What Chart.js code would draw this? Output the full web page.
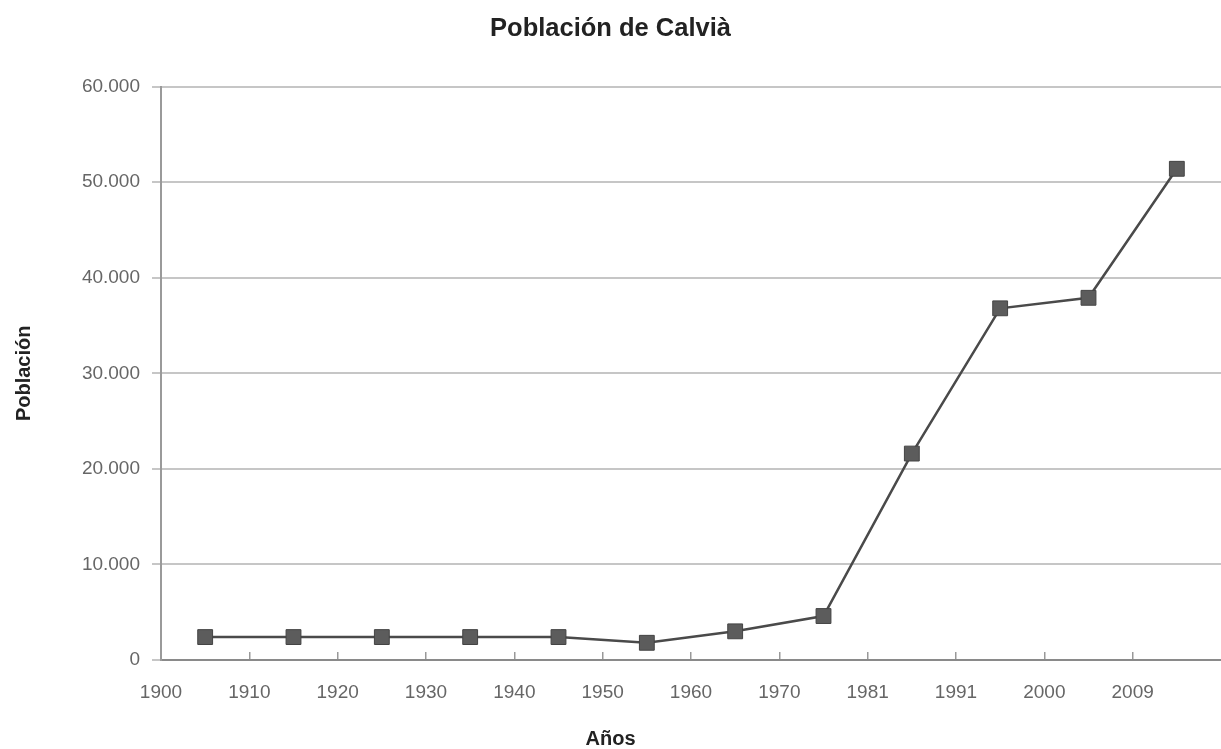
<!DOCTYPE html>
<html>
<head>
<meta charset="utf-8">
<script src="https://cdn.jsdelivr.net/npm/chart.js@4"></script>
<style>
  body { margin: 0; background: #fff; }
  #wrap { width: 1221px; height: 749px; }
</style>
</head>
<body>
<div id="wrap"><canvas id="myChart"></canvas></div>
<script>
"use strict"

// tick labels on the x axis (each one sits on the left edge of its period)
let yearLabels = ["1900", "1910", "1920", "1930", "1940", "1950", "1960", "1970", "1981", "1991", "2000", "2009"];

// population, one value per period
let population = [2400, 2400, 2400, 2400, 2400, 1800, 3000, 4600, 21600, 36800, 37900, 51400];

let yTicks = [0, 10000, 20000, 30000, 40000, 50000, 60000];

// points sit in the middle of each period
let points = [];
for (let i = 0; i < population.length; i++) {
  points.push({ x: i + 0.5, y: population[i] });
}

function thousands(v) {
  return String(v).replace(/\B(?=(\d{3})+(?!\d))/g, ".");
}

const ctx = document.getElementById("myChart").getContext("2d");
const myChart = new Chart(ctx, {
  type: "line",
  data: {
    datasets: [
      {
        label: "Población",
        data: points,
        borderColor: "#4a4a4a",
        borderWidth: 2.5,
        pointStyle: "rect",
        pointRadius: 10.5,
        pointBackgroundColor: "#5c5c5c",
        pointBorderColor: "#444",
        pointBorderWidth: 1,
        tension: 0
      }
    ]
  },
  options: {
    responsive: true,
    maintainAspectRatio: false,
    animation: false,
    layout: { autoPadding: false, padding: { left: 0, right: 0, top: 0, bottom: 0 } },
    plugins: {
      legend: { display: false },
      tooltip: { enabled: false },
      title: {
        display: true,
        text: "Población de Calvià",
        color: "#222",
        font: { family: "'Liberation Sans', Arial, sans-serif", size: 25.5, weight: "bold" },
        padding: { top: 14, bottom: 42 }
      },
      subtitle: {
        display: true,
        position: "bottom",
        text: "Años",
        color: "#222",
        font: { family: "'Liberation Sans', Arial, sans-serif", size: 20, weight: "bold", lineHeight: 1 },
        padding: { top: 0, bottom: 0 }
      }
    },
    scales: {
      x: {
        type: "linear",
        min: 0,
        max: yearLabels.length,
        afterFit: function (scale) { scale.height = 69; },
        afterBuildTicks: function (scale) {
          scale.ticks = yearLabels.map(function (l, i) { return { value: i }; });
        },
        ticks: {
          autoSkip: false,
          maxRotation: 0,
          padding: 29,
          color: "#666",
          font: { family: "'Liberation Sans', Arial, sans-serif", size: 19 },
          callback: function (v) { return yearLabels[v] !== undefined ? yearLabels[v] : ""; }
        },
        grid: {
          drawOnChartArea: false,
          drawTicks: true,
          tickLength: -8,
          color: "#999",
          lineWidth: 1.5
        },
        border: { display: true, color: "#8a8a8a", width: 2 }
      },
      y: {
        min: 0,
        max: 60000,
        afterFit: function (scale) { scale.width = 161; },
        afterBuildTicks: function (scale) {
          scale.ticks = yTicks.map(function (v) { return { value: v }; });
        },
        ticks: {
          padding: 12,
          color: "#666",
          font: { family: "'Liberation Sans', Arial, sans-serif", size: 19 },
          callback: function (v) { return thousands(v); }
        },
        grid: {
          color: "#c6c6c6",
          lineWidth: 2,
          drawTicks: true,
          tickLength: 9
        },
        border: { display: true, color: "#9a9a9a", width: 2 },
        title: {
          display: true,
          text: "Población",
          color: "#222",
          font: { family: "'Liberation Sans', Arial, sans-serif", size: 20, weight: "bold" },
          padding: { top: 12, bottom: 0 }
        }
      }
    }
  }
});
</script>
</body>
</html>
